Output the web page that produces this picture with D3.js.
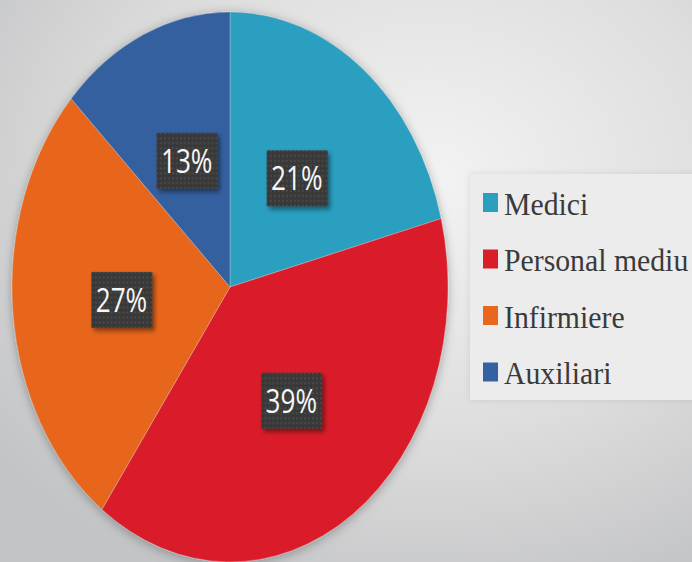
<html>
  <head>
    <meta charset="utf-8">
    <title>Personal pie</title>
  </head>
<style>
  body { margin: 0; overflow: hidden; }
</style>
  <body>
    <script src="https://cdn.jsdelivr.net/npm/d3@7/dist/d3.min.js" charset="utf-8"></script>
    <script>

    var width = 692,
        height = 562;

    // data
    var categories = ["Medici", "Personal mediu", "Infirmiere", "Auxiliari"];
    var values = [21, 39, 27, 13];
    var colors = ["#2a9fbf", "#da1e29", "#e8661d", "#34619f"];

    var svg = d3.select("body")
                .append("svg")
                .attr("width", width)
                .attr("height", height);

    var defs = svg.append("defs");

    var bg = defs.append("radialGradient").attr("id", "bg")
                 .attr("cx", "62%").attr("cy", "32%").attr("r", "80%");
    bg.append("stop").attr("offset", "0%").attr("stop-color", "#f3f3f3");
    bg.append("stop").attr("offset", "55%").attr("stop-color", "#dedede");
    bg.append("stop").attr("offset", "100%").attr("stop-color", "#c2c3c5");

    var pieShadow = defs.append("filter").attr("id", "pieShadow")
                        .attr("x", "-20%").attr("y", "-20%").attr("width", "140%").attr("height", "140%");
    pieShadow.append("feDropShadow").attr("dx", 0).attr("dy", 2)
             .attr("stdDeviation", 6).attr("flood-color", "#000").attr("flood-opacity", 0.3);

    var boxShadow = defs.append("filter").attr("id", "boxShadow")
                        .attr("x", "-30%").attr("y", "-30%").attr("width", "160%").attr("height", "160%");
    boxShadow.append("feDropShadow").attr("dx", 3).attr("dy", 3)
             .attr("stdDeviation", 2.5).attr("flood-color", "#000").attr("flood-opacity", 0.45);

    var legendShadow = defs.append("filter").attr("id", "legendShadow")
                        .attr("x", "-20%").attr("y", "-20%").attr("width", "140%").attr("height", "140%");
    legendShadow.append("feDropShadow").attr("dx", 0).attr("dy", 0)
             .attr("stdDeviation", 3).attr("flood-color", "#000").attr("flood-opacity", 0.1);

    var dots = defs.append("pattern").attr("id", "dots")
                   .attr("patternUnits", "userSpaceOnUse").attr("width", 5).attr("height", 5);
    dots.append("rect").attr("width", 5).attr("height", 5).attr("fill", "#393939");
    dots.append("circle").attr("cx", 2.5).attr("cy", 2.5).attr("r", 0.9).attr("fill", "#555");

    svg.append("rect").attr("width", width).attr("height", height).attr("fill", "url(#bg)");

    // pie is drawn as a circle and squeezed horizontally into an ellipse
    var radius = 275,
        squeeze = 218 / 275;

    var color = d3.scaleOrdinal().domain(categories).range(colors);

    var pie = d3.pie().sort(null).value(function(d){ return d.value; });
    var arc = d3.arc().innerRadius(0).outerRadius(radius);

    var data = categories.map(function(c, i){ return {name: c, value: values[i]}; });
    var arcs = pie(data);

    var g = svg.append("g")
               .attr("transform", "translate(230,287) scale(" + squeeze + ",1)");

    g.append("g").attr("filter", "url(#pieShadow)")
     .selectAll("path").data(arcs)
     .enter().append("path")
     .attr("d", arc)
     .attr("fill", function(d){ return color(d.data.name); })
     .attr("stroke", "#d8d8d8").attr("stroke-width", 0.5).attr("stroke-opacity", 0.7)
     .attr("vector-effect", "non-scaling-stroke");

    var label = g.selectAll(".label").data(arcs)
                 .enter().append("g").attr("class", "label")
                 .attr("transform", function(d){ return "translate(" + arc.centroid(d) + ")"; });

    label.append("rect")
         .attr("x", -38).attr("y", -28).attr("width", 77).attr("height", 56)
         .attr("fill", "url(#dots)")
         .attr("filter", "url(#boxShadow)");

    label.append("text")
         .attr("text-anchor", "middle")
         .attr("dy", "0.36em")
         .attr("font-family", "Open Sans")
         .attr("font-size", 33)
         .attr("fill", "#f6f6f6")
         .text(function(d){ return d.data.value + "%"; });

    // legend
    var legend = svg.append("g").attr("transform", "translate(470,174)");

    legend.append("rect")
          .attr("width", 240).attr("height", 226)
          .attr("fill", "#ececec")
          .attr("filter", "url(#legendShadow)");

    var row = d3.scaleBand().domain(categories).range([12, 238]);

    var item = legend.selectAll(".item").data(categories)
                     .enter().append("g").attr("class", "item")
                     .attr("transform", function(d){ return "translate(0," + row(d) + ")"; });

    item.append("rect")
        .attr("x", 13).attr("y", 7).attr("width", 15).attr("height", 19)
        .attr("fill", function(d){ return color(d); });

    item.append("text")
        .attr("transform", "translate(34,28.5) scale(0.93,1)")
        .style("font-family", "'Liberation Serif', 'Times New Roman', Times, serif")
        .attr("font-size", 32)
        .attr("fill", "#3a3a3a")
        .text(function(d){ return d; });

    </script>
  </body>
</html>
